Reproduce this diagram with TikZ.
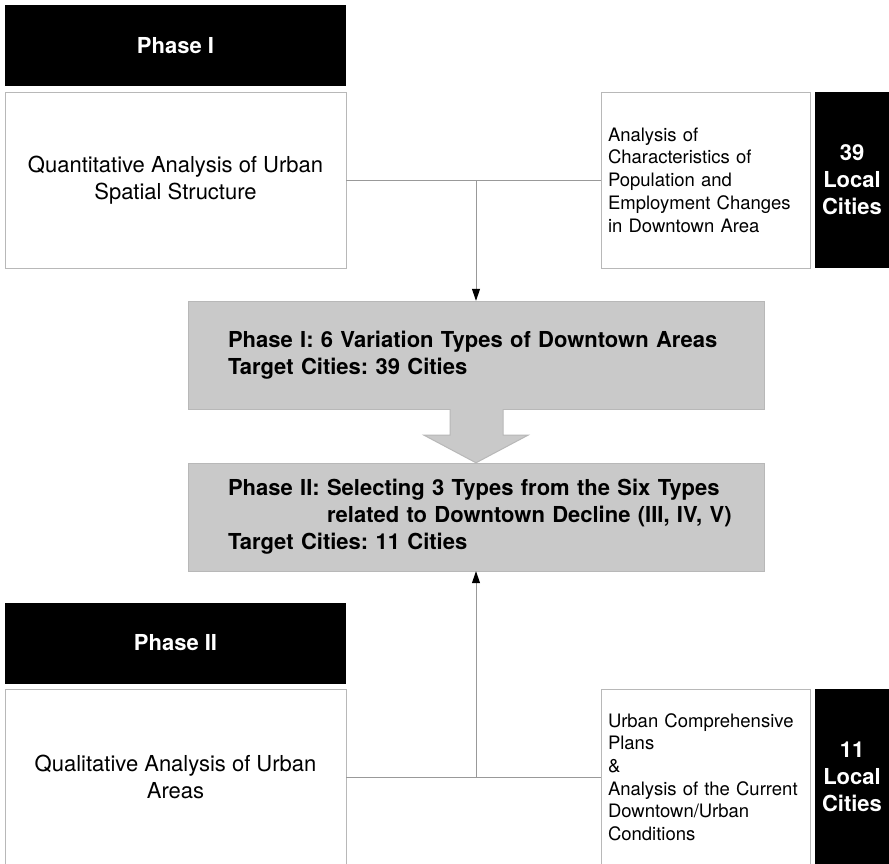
\documentclass[tikz,border=0pt]{standalone}
\usepackage{fontspec}
\setmainfont{TeX Gyre Heros}
\usepackage{xcolor}
\usepackage{tikz}
\usetikzlibrary{shapes,positioning,arrows.meta,calc}

\definecolor{boxline}{gray}{0.72}
\definecolor{linegray}{gray}{0.6}
\definecolor{resgray}{gray}{0.79}
\frenchspacing

\begin{document}
\begin{tikzpicture}[x=1pt,y=-1pt,
	head/.style={fill=black,text=white,font=\bfseries\fontsize{22}{27}\selectfont,minimum width=341pt,minimum height=81pt,inner sep=0pt},
	task/.style={draw=boxline,fill=white,font=\fontsize{22}{27}\selectfont,align=center,minimum width=341pt,minimum height=176pt,inner sep=0pt},
	detail/.style={draw=boxline,fill=white,font=\fontsize{18.5}{22.7}\selectfont,align=left,text width=195pt,minimum height=176pt,inner xsep=7pt,inner ysep=0pt},
	cities/.style={fill=black,text=white,font=\bfseries\fontsize{22}{27}\selectfont,align=center,minimum width=74pt,minimum height=176pt,inner sep=0pt},
	result/.style={draw=boxline,fill=resgray,font=\bfseries\fontsize{22}{27}\selectfont,align=left,text width=496pt,minimum height=108pt,inner xsep=40pt,inner ysep=0pt},
	link/.style={draw=linegray,line width=1pt},
	tip/.style={link,-{Triangle[length=12pt,width=8pt,color=black]}}]
	\useasboundingbox[fill=white] (0,0) rectangle (889,864);

	\node[head] (phase1) at (175.5,45.5) {Phase I};
	\node[task] (quant) at (175.5,180) {Quantitative Analysis of Urban\\Spatial Structure};
	\node[detail] (popbox) at (705.5,180) {Analysis of\\Characteristics of\\Population and\\Employment Changes\\in Downtown Area};
	\node[cities] (local39) at (852,180) {39\\Local\\Cities};

	\node[result] (res1) at (476,355) {Phase I: 6 Variation Types of Downtown Areas\\Target Cities: 39 Cities};
	\node[result] (res2) at (476,517) {\mbox{Phase II: Selecting 3 Types from the Six Types}\\\mbox{\hphantom{Phase II:\ }related to Downtown Decline (III, IV, V)}\\Target Cities: 11 Cities};

	\node[head] (phase2) at (175.5,643) {Phase II};
	\node[task] (qual) at (175.5,777) {Qualitative Analysis of Urban\\Areas};
	\node[detail] (planbox) at (705.5,777) {Urban Comprehensive\\Plans\\\&\\Analysis of the Current\\Downtown/Urban\\Conditions};
	\node[cities] (local11) at (852,777) {11\\Local\\Cities};

	% top branch
	\draw[link] (quant.east) -- (popbox.west);
	\coordinate (j1) at (quant.east -| res1.north);
	\draw[tip] (j1) -- (res1.north);

	% block arrow between the two results
	\draw[draw=boxline,fill=resgray,line width=1pt]
		($(res1.south)+(-26,0)$) -- ++(0,26) -- ++(-26,0) -- (res2.north) -- ($(res1.south)+(52,26)$) -- ++(-25,0) -- ++(0,-26);
	%\draw[link] (res1.south) -- (res2.north);

	% bottom branch
	\draw[link] (qual.east) -- (planbox.west);
	\coordinate (j2) at (qual.east -| res2.south);
	\draw[tip] (j2) -- (res2.south);
\end{tikzpicture}
\end{document}
